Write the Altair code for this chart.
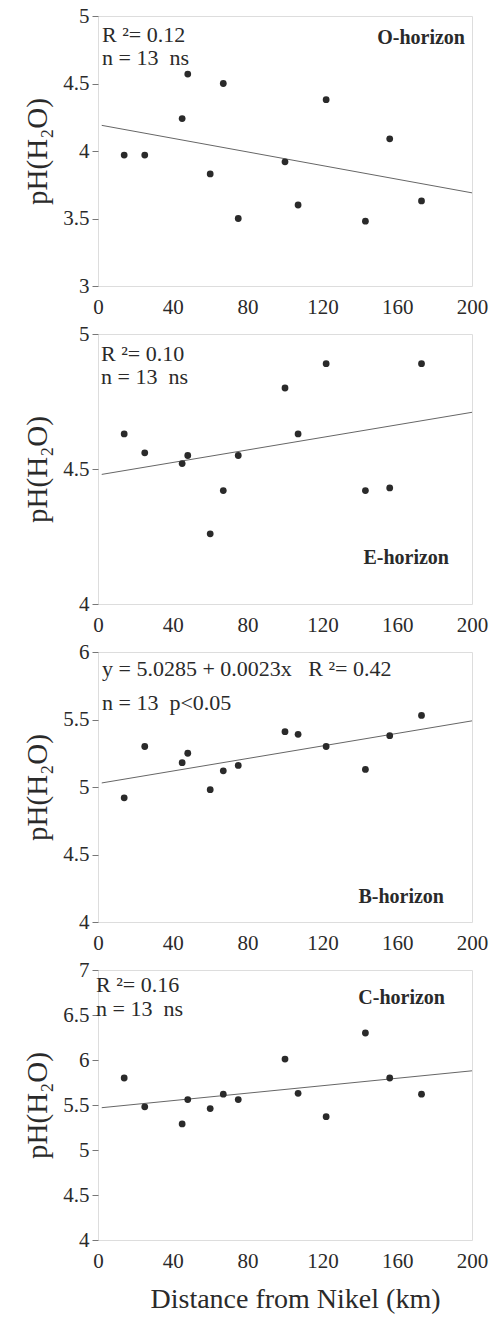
import altair as alt
import pandas as pd

# Distance from Nikel (km), shared by all horizons
distance = [14, 25, 45, 48, 60, 67, 75, 100, 107, 122, 143, 156, 173]

# pH(H2O) per horizon
ph_o = [3.97, 3.97, 4.24, 4.57, 3.83, 4.50, 3.50, 3.92, 3.60, 4.38, 3.48, 4.09, 3.63]
ph_e = [4.63, 4.56, 4.52, 4.55, 4.26, 4.42, 4.55, 4.80, 4.63, 4.89, 4.42, 4.43, 4.89]
ph_b = [4.92, 5.30, 5.18, 5.25, 4.98, 5.12, 5.16, 5.41, 5.39, 5.30, 5.13, 5.38, 5.53]
ph_c = [5.80, 5.48, 5.29, 5.56, 5.46, 5.62, 5.56, 6.01, 5.63, 5.37, 6.30, 5.80, 5.62]

# regression line end points (x, y)
fit_x = [2, 200]
fit_o = [4.19, 3.69]
fit_e = [4.48, 4.71]
fit_b = [5.03, 5.49]
fit_c = [5.47, 5.88]

y_domains = [[3, 5], [4, 5], [4, 6], [4, 7]]
horizon_names = ["O-horizon", "E-horizon", "B-horizon", "C-horizon"]
NB = "\u00a0"
stat_line1 = [f"R{NB}²= 0.12", f"R{NB}²= 0.10", f"y = 5.0285 + 0.0023x{NB*3}R{NB}²= 0.42", f"R{NB}²= 0.16"]
stat_line2 = [f"n = 13{NB} ns", f"n = 13{NB} ns", f"n = 13{NB} p<0.05", f"n = 13{NB} ns"]
x_ticks = [0, 40, 80, 120, 160, 200]

# annotation placement (pixels inside plot area)
stat_x = [4, 3, 4, -2]
stat_y1 = [26, 27, 24, 22]
stat_y2 = [49, 50, 58, 46]
name_x = [367, 351, 346, 347]
name_y = [28, 230, 251, 34]

W, H = 374, 270
FONT = "Liberation Serif"
INK = "#2a2a2a"

series = [ph_o, ph_e, ph_b, ph_c]
fits = [fit_o, fit_e, fit_b, fit_c]

panels = []
for i in range(4):
    pts = pd.DataFrame({"d": distance, "ph": series[i]})
    fit = pd.DataFrame({"d": fit_x, "ph": fits[i]})
    last = i == 3
    lo, hi = y_domains[i]
    nsteps = int(round((hi - lo) / 0.5))
    xaxis = alt.Axis(
        values=x_ticks, grid=False, ticks=False, domain=False,
        labelFont=FONT, labelFontSize=21, labelColor=INK, labelPadding=10,
        labelFlush=False, labelOverlap=False,
        title="Distance from Nikel (km)" if last else None,
        titleFont=FONT, titleFontSize=28, titleFontWeight="normal",
        titleColor=INK, titlePadding=14, titleX=197,
    )
    xs = alt.Scale(domain=[0, 200], nice=False)
    ys = alt.Scale(domain=y_domains[i], nice=False, zero=False)
    yaxis = alt.Axis(
        values=[lo + 0.5 * k for k in range(nsteps + 1)],
        format=".1~f", grid=False, domain=False, ticks=True, tickSize=6,
        tickColor="#777", labelFont=FONT, labelFontSize=21, labelColor=INK,
        labelPadding=3, labelFlush=False, labelOverlap=False,
        title="pH(H₂O)", titleFont=FONT, titleFontSize=29,
        titleFontWeight="normal", titleColor=INK, titleX=-61, titleY=H / 2,
        titleAngle=270, titleAlign="center", titleBaseline="middle",
    )
    base_x = alt.X("d:Q", scale=xs, axis=xaxis)
    base_y = alt.Y("ph:Q", scale=ys, axis=yaxis)

    points = alt.Chart(pts).mark_circle(size=46, color=INK, opacity=1).encode(x=base_x, y=base_y)
    line = alt.Chart(fit).mark_line(color="#666", strokeWidth=1).encode(x=base_x, y=base_y)

    one = pd.DataFrame({"a": [0]})
    t1 = alt.Chart(one).mark_text(
        text=stat_line1[i], font=FONT, fontSize=22, color=INK, align="left", baseline="alphabetic"
    ).encode(x=alt.value(stat_x[i]), y=alt.value(stat_y1[i]))
    t2 = alt.Chart(one).mark_text(
        text=stat_line2[i], font=FONT, fontSize=22, color=INK, align="left", baseline="alphabetic"
    ).encode(x=alt.value(stat_x[i]), y=alt.value(stat_y2[i]))
    t3 = alt.Chart(one).mark_text(
        text=horizon_names[i], font=FONT, fontSize=20, fontWeight="bold", color=INK,
        align="right", baseline="alphabetic"
    ).encode(x=alt.value(name_x[i]), y=alt.value(name_y[i]))

    panels.append(alt.layer(line, points, t1, t2, t3).properties(width=W, height=H))

chart = alt.vconcat(*panels, spacing=48, bounds="flush").properties(
    padding={"left": 22, "top": 4, "right": 5, "bottom": 5}
).configure_view(stroke="#8a8a8a", strokeWidth=1).configure(background="white")

chart.save("out.html", embed_options={"renderer": "svg", "actions": False})
